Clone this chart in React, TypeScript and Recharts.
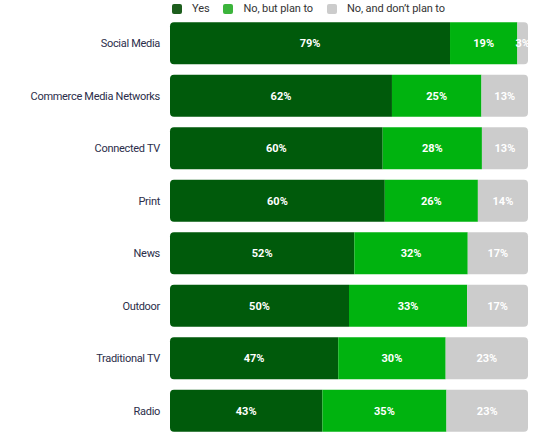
import { BarChart, Bar, XAxis, YAxis, LabelList } from "recharts";

const CHANNELS = [
  "Social Media",
  "Commerce Media Networks",
  "Connected TV",
  "Print",
  "News",
  "Outdoor",
  "Traditional TV",
  "Radio",
];
const YES = [79, 62, 60, 60, 52, 50, 47, 43];
const PLAN = [19, 25, 28, 26, 32, 33, 30, 35];
const NO_PLAN = [3, 13, 13, 14, 17, 17, 23, 23];

const SERIES = [
  { key: "yes", name: "Yes", color: "#005a0b", swatch: "#1d5e1d" },
  { key: "plan", name: "No, but plan to", color: "#00b30f", swatch: "#3bb43b" },
  { key: "noPlan", name: "No, and don\u2019t plan to", color: "#cccccc", swatch: "#cccccc" },
];

const data = CHANNELS.map((name, i) => ({
  name,
  yes: YES[i],
  plan: PLAN[i],
  noPlan: NO_PLAN[i],
}));

const FONT = "Roboto, sans-serif";

function LegendRow() {
  return (
    <div
      style={{
        position: "absolute",
        left: 172,
        top: 2,
        zIndex: 2,
        display: "flex",
        alignItems: "center",
        fontFamily: FONT,
        fontSize: 11,
        lineHeight: "14px",
        letterSpacing: -0.1,
        color: "#333",
      }}
    >
      {SERIES.map((s) => (
        <div key={s.key} style={{ display: "flex", alignItems: "center", marginRight: 14 }}>
          <span
            style={{
              width: 10,
              height: 10,
              borderRadius: 2,
              background: s.swatch,
              marginRight: 10,
              display: "inline-block",
            }}
          />
          <span>{s.name}</span>
        </div>
      ))}
    </div>
  );
}

// plain single-line tick, recharts would wrap the long one
function CategoryTick(props: any) {
  const { x, y, payload } = props;
  return (
    <text
      x={x}
      y={y}
      dy={4}
      textAnchor="end"
      fill="#2b2d4a"
      fontSize={11}
      fontFamily={FONT}
      letterSpacing={-0.3}
    >
      {payload.value}
    </text>
  );
}

const pct = (v: any) => `${v}%`;

export default function App() {
  return (
    <div style={{ position: "absolute", left: 0, top: 0, width: 560, height: 435, overflow: "hidden" }}>
      <BarChart
        width={560}
        height={435}
        data={data}
        layout="vertical"
        stackOffset="expand"
        barCategoryGap="10%"
        margin={{ top: 17, right: 32, bottom: -2, left: 0 }}
      >
        <XAxis type="number" hide domain={[0, 1]} />
        <YAxis
          type="category"
          dataKey="name"
          width={170}
          axisLine={false}
          tickLine={false}
          tickMargin={4}
          tick={<CategoryTick />}
        />
        {SERIES.map((s, i) => (
          <Bar
            key={s.key}
            dataKey={s.key}
            name={s.name}
            stackId="a"
            fill={s.color}
            isAnimationActive={false}
            radius={i === 0 ? [4, 0, 0, 4] : i === 2 ? [0, 4, 4, 0] : 0}
          >
            <LabelList
              dataKey={s.key}
              position="center"
              formatter={pct}
              fill="#ffffff"
              style={{ fontFamily: FONT, fontSize: 11, fontWeight: 700 }}
            />
          </Bar>
        ))}
      </BarChart>
      <LegendRow />
    </div>
  );
}
